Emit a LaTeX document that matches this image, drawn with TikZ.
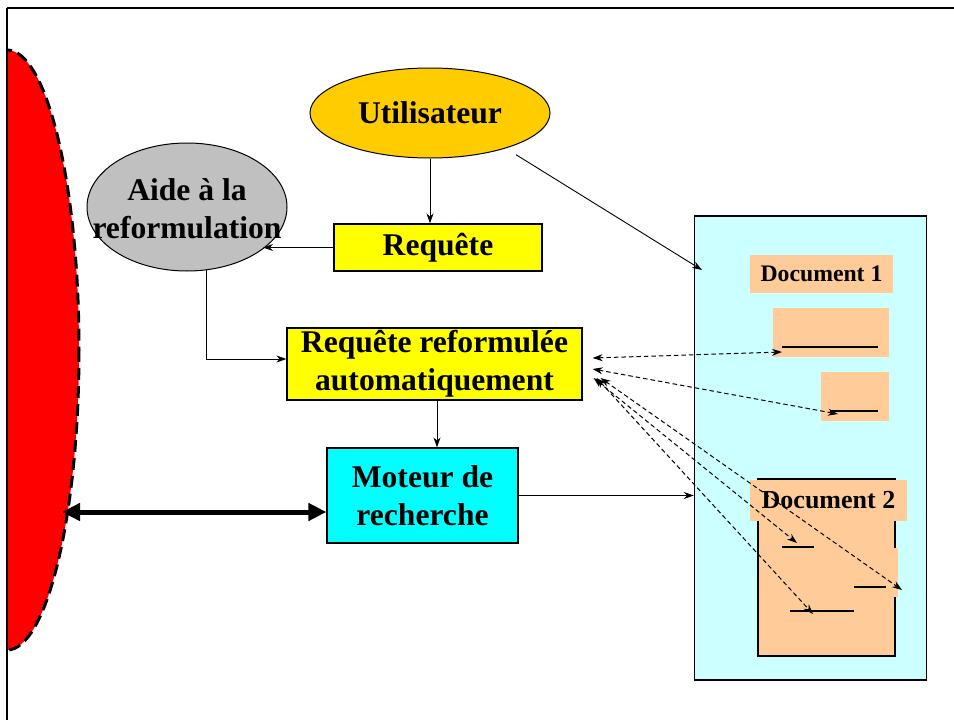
\documentclass[tikz,border=0pt]{standalone}
\usepackage{fontspec}
\setmainfont{Liberation Serif}
\usetikzlibrary{arrows.meta,shapes.geometric}
\definecolor{gold}{RGB}{255,204,0}
\definecolor{peach}{RGB}{255,204,153}
\definecolor{lcyan}{RGB}{204,255,255}
\definecolor{silver}{RGB}{192,192,192}
\definecolor{pcyan}{RGB}{0,255,255}
\definecolor{pyellow}{RGB}{255,255,0}
\definecolor{pred}{RGB}{255,0,0}
\begin{document}
\begin{tikzpicture}[x=1pt,y=-1pt,
  lbl/.style={font=\fontsize{31.6}{38}\selectfont\bfseries, align=center},
  box/.style={draw=black, line width=1.2pt, inner sep=0pt, lbl},
  conn/.style={line width=0.9pt, -{Stealth[length=10pt,width=7pt]}},
  dconn/.style={line width=1pt, dash pattern=on 4.5pt off 3pt, {Stealth[length=10pt,width=7pt]}-{Stealth[length=10pt,width=7pt]}},
  peachbox/.style={fill=peach, inner sep=0pt},
  docline/.style={line width=1.2pt}]
\useasboundingbox (0,0) rectangle (954,720);
\fill[white] (0,0) rectangle (954,720);
% red half ellipse
\begin{scope}
\clip (7,0) rectangle (200,720);
\fill[pred] (7,350) ellipse [x radius=72, y radius=300];
\draw[line width=3pt, dash pattern=on 12pt off 6pt] (7,350) ellipse [x radius=72, y radius=300];
\end{scope}
% frame
\draw[line width=2.5pt] (7,8) -- (954,8);
\draw[line width=1.5pt] (7,8) -- (7,720);
% nodes
\node[ellipse, draw, fill=gold, line width=1pt, minimum width=240pt, minimum height=90pt, inner sep=0pt, lbl] (util) at (430,113) {Utilisateur};
\node[ellipse, draw, fill=silver, line width=1pt, minimum width=200pt, minimum height=128pt, inner sep=0pt] (aide) at (187,207) {};
\node[lbl, inner sep=0pt] (aidetxt) at (187,209) {Aide à la\\reformulation};
\node[box, fill=pyellow, minimum width=208pt, minimum height=47pt] (req) at (438,247.5) {Requête};
\node[box, fill=pyellow, minimum width=295pt, minimum height=72pt] (rr) at (434.5,364) {Requête reformulée\\automatiquement};
\node[box, fill=pcyan, minimum width=191pt, minimum height=95pt] (mot) at (422.5,495.5) {Moteur de\\recherche};
% documents area
\node[draw, fill=lcyan, line width=1.5pt, minimum width=232pt, minimum height=464pt, inner sep=0pt] (docs) at (810.5,448) {};
\node[peachbox, minimum width=143pt, minimum height=38pt, font=\fontsize{23.7}{28}\selectfont\bfseries] (d1) at (821.5,274) {Document 1};
\node[peachbox, minimum width=116pt, minimum height=49pt] (d1a) at (831,332.5) {};
\node[peachbox, minimum width=68pt, minimum height=49pt] (d1b) at (855,396.5) {};
\draw[docline] (782,347) -- (878,347);
\draw[docline] (830,411) -- (878,411);
\node[draw, fill=peach, line width=1.2pt, minimum width=137pt, minimum height=177pt, inner sep=0pt] (d2) at (826.5,567.5) {};
\fill[peach] (894,548) rectangle (898,597);
\node[peachbox, minimum width=157pt, minimum height=41pt, font=\fontsize{26}{30}\selectfont\bfseries] (d2l) at (828.5,500.5) {Document 2};
\draw[docline] (782,547) -- (814,547);
\draw[docline] (854,587) -- (886,587);
\draw[docline] (790,611) -- (854,611);
% connectors
\draw[conn] (util.south -| 430,0) -- (req.north -| 430,0);
\draw[conn] (req.west) -- (req.west -| aide.-29);
\draw[conn] (aide.-73) |- ([yshift=5pt]rr.west);
\draw[conn] ([xshift=2.5pt]rr.south) -- ([xshift=2.5pt]rr.south |- mot.north);
\draw[conn] (mot.east) -- (mot.east -| docs.west);
\coordinate (uend) at (702,270);
\draw[conn, shorten <=12pt] (util.-25) -- (uend);
\coordinate (redpt) at (62,512);
\draw[line width=5pt, {Triangle[length=18pt,width=17pt]}-{Triangle[length=18pt,width=17pt]}] (redpt) -- (redpt -| mot.west);
% dashed arrows
\coordinate (a1) at ([shift={(10,-6)}]rr.east);
\coordinate (a2) at ([shift={(10,5)}]rr.east);
\coordinate (a3) at ([shift={(11,14)}]rr.east);
\coordinate (a4) at ([shift={(14,14)}]rr.east);
\coordinate (a5) at ([shift={(18,14)}]rr.east);
\coordinate (b1) at (782,352);
\coordinate (b2) at (838,414);
\coordinate (b3) at (797,543);
\coordinate (b4) at (902,590);
\coordinate (b5) at (813,614);
\draw[dconn] (a1) -- (b1);
\draw[dconn] (a2) -- (b2);
\draw[dconn] (a3) -- (b3);
\draw[dconn] (a5) -- (b4);
\draw[dconn] (a4) -- (b5);
\end{tikzpicture}
\end{document}
